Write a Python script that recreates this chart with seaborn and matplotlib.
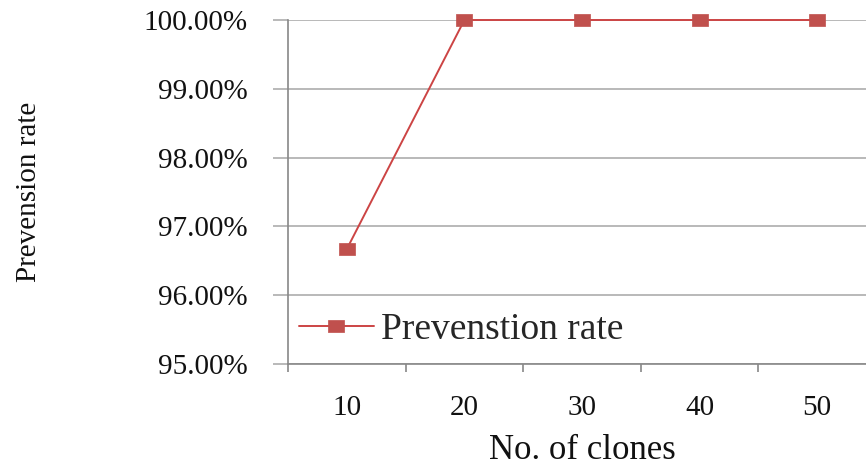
import matplotlib
matplotlib.use("Agg")
import matplotlib.pyplot as plt
import seaborn as sns
import pandas as pd
from matplotlib.ticker import FuncFormatter, FixedLocator

clones = ["10", "20", "30", "40", "50"]
rates = [96.67, 100.0, 100.0, 100.0, 100.0]
series_name = "Prevenstion rate"
ytick_values = [95, 96, 97, 98, 99, 100]
x_label = "No. of clones"
y_label = "Prevension rate"

df = pd.DataFrame({"clones": clones, "rate": rates, "series": series_name})

sns.set_theme(style="white")
plt.rcParams["font.family"] = ["Liberation Serif", "DejaVu Serif"]

fig = plt.figure(figsize=(8.66, 4.69), dpi=100)
ax = fig.add_axes([288/866, 105/469, 588/866, 344/469])

line_color = "#C0504D"
rect_marker = [(-1.3, -1), (1.3, -1), (1.3, 1), (-1.3, 1), (-1.3, -1)]
sns.lineplot(data=df, x="clones", y="rate", hue="series", palette=["#CC4444"],
             marker=rect_marker, markersize=11, markerfacecolor=line_color,
             markeredgecolor="#C0504D", markeredgewidth=0.5,
             linewidth=1.4, ax=ax, clip_on=False)

ax.set_ylim(95, 100)
ax.set_xlim(-0.5, 4.5)
ax.set_yticks(ytick_values)
ax.yaxis.set_major_formatter(FuncFormatter(lambda v, p: f"{v:.2f}%"))
ax.grid(axis="y", color="#B3B3B3", linewidth=1.3)
ax.set_axisbelow(True)

ax.set_xticks(range(len(clones)))
ax.set_xticklabels(clones)
ax.xaxis.set_minor_locator(FixedLocator([i - 0.5 for i in range(len(clones) + 1)]))
ax.tick_params(axis="x", which="major", bottom=False, length=0, pad=22, labelsize=21, labelcolor="#111111")
ax.tick_params(axis="x", which="minor", bottom=True, length=6, width=1.2, color="#888888", direction="out")
ax.tick_params(axis="y", which="major", left=True, length=11, width=1.3, color="#B3B3B3", direction="out",
               pad=18, labelsize=21, labelcolor="#111111")

for s in ["top", "right"]:
    ax.spines[s].set_visible(False)
for s in ["left", "bottom"]:
    ax.spines[s].set_color("#888888")
    ax.spines[s].set_linewidth(1.2)

ax.set_xlabel(x_label, fontsize=25, labelpad=10, color="#111111")
ax.set_ylabel(y_label, fontsize=21, labelpad=0, color="#111111")
ax.yaxis.set_label_coords(-0.418, 0.5)

leg = ax.legend(loc="lower left", bbox_to_anchor=(-0.02, -0.015), frameon=False,
                fontsize=27, handlelength=2.0, handletextpad=0.2, borderaxespad=0.2)

fig.savefig("out.png", dpi=100)
